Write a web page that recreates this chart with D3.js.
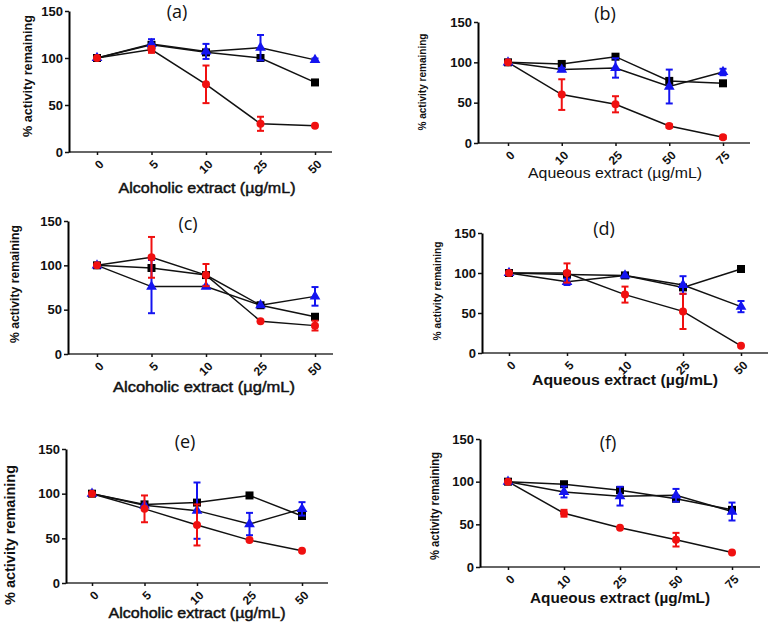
<!DOCTYPE html>
<html><head><meta charset="utf-8">
<script src="https://cdn.jsdelivr.net/npm/d3@7"></script>
<style>body{margin:0;background:#fff}svg{display:block}</style>
</head><body>
<svg id="c" width="770" height="622"></svg>
<script>
// ---------- DATA ----------
const panelTitles = ["(a)", "(b)", "(c)", "(d)", "(e)", "(f)"];
const xTitles = ["Alcoholic extract (\u00b5g/mL)", "Aqueous extract (\u00b5g/mL)", "Alcoholic extract  (\u00b5g/mL)",
                 "Aqueous extract (\u00b5g/mL)", "Alcoholic extract  (\u00b5g/mL)", "Aqueous extract (\u00b5g/mL)"];
const yTitle = "% activity remaining";
const catsAlcoholic = ["0", "5", "10", "25", "50"];
const catsAqueous = ["0", "10", "25", "50", "75"];
const yTicks = [0, 50, 100, 150];

// panel (a)
const aBlack = [100, 114, 106, 100, 74];   const aBlackErr = [0, 0, 0, 0, 0];
const aBlue  = [100, 115, 107, 111, 98];   const aBlueErr  = [0, 5, 8, 13.5, 1.5];
const aRed   = [100, 109, 72, 30, 28];     const aRedErr   = [0, 3.5, 20, 7.5, 0];
// panel (b)
const bBlack = [100, 98, 107, 77, 74];     const bBlackErr = [0, 0, 0, 0, 0];
const bBlue  = [100, 91, 93, 70, 88];      const bBlueErr  = [0, 2, 12, 21, 4];
const bRed   = [100, 60, 48, 21, 7];       const bRedErr   = [0, 19, 10, 2, 2];
// panel (c)
const cBlack = [100, 97, 89, 55, 42];      const cBlackErr = [0, 0, 0, 0, 0];
const cBlue  = [100, 76, 76, 55, 65];      const cBlueErr  = [0, 30, 1, 0, 10.5];
const cRed   = [100, 109, 89, 37, 32];     const cRedErr   = [0, 23, 12.5, 0, 5.5];
// panel (d)
const dBlack = [100, 98, 97, 82, 105];     const dBlackErr = [0, 0, 0, 0, 0];
const dBlue  = [100, 89, 97, 85, 58];      const dBlueErr  = [0, 4, 0, 11, 7];
const dRed   = [100, 100, 73, 52, 9];      const dRedErr   = [0, 12, 10, 22, 0];
// panel (e)
const eBlack = [100, 88, 90, 98, 75];      const eBlackErr = [0, 0, 0, 0, 0];
const eBlue  = [100, 87, 81, 66, 83];      const eBlueErr  = [0, 0, 31.5, 12.5, 7.5];
const eRed   = [100, 83, 65, 48, 36];      const eRedErr   = [0, 15, 23, 0, 0];
// panel (f)
const fBlack = [100, 97, 90, 80, 67];      const fBlackErr = [0, 0, 0, 0, 0];
const fBlue  = [100, 88, 83, 84, 65];      const fBlueErr  = [0, 6.5, 11, 7.5, 10.5];
const fRed   = [100, 63, 46, 32, 17];      const fRedErr   = [0, 4, 0, 8, 0];

// ---------- LAYOUT ----------
const layouts = [
  {ax:69,  top:11,  bot:152, x0:97,  x1:315, xe:332, tx:177, ty:11,  ylx:27,  yly:76,  yll:122, yfs:13, xlx:207, xly:193, xll:177, xb:false},
  {ax:478, top:22,  bot:143, x0:508, x1:723, xe:750, tx:605, ty:13,  ylx:422, yly:82,  yll:97,  yfs:11, xlx:615, xly:178, xll:174, xb:false},
  {ax:68,  top:221, bot:354, x0:97,  x1:315, xe:333, tx:188, ty:223, ylx:14,  yly:284, yll:118, yfs:13, xlx:204, xly:392, xll:182, xb:false},
  {ax:482, top:233, bot:353, x0:509, x1:741, xe:768, tx:604, ty:228, ylx:437, yly:291, yll:99,  yfs:11, xlx:625, xly:385, xll:186, xb:true},
  {ax:66,  top:449, bot:583, x0:92,  x1:302, xe:328, tx:185, ty:441, ylx:10,  yly:535, yll:140, yfs:14, xlx:197, xly:618, xll:177, xb:false},
  {ax:480, top:439, bot:567, x0:508, x1:732, xe:760, tx:608, ty:442, ylx:435, yly:506, yll:108, yfs:12, xlx:620, xly:603, xll:180, xb:true}
];

const panels = [
  {cats: catsAlcoholic, black: aBlack, blackErr: aBlackErr, blue: aBlue, blueErr: aBlueErr, red: aRed, redErr: aRedErr},
  {cats: catsAqueous,   black: bBlack, blackErr: bBlackErr, blue: bBlue, blueErr: bBlueErr, red: bRed, redErr: bRedErr},
  {cats: catsAlcoholic, black: cBlack, blackErr: cBlackErr, blue: cBlue, blueErr: cBlueErr, red: cRed, redErr: cRedErr},
  {cats: catsAlcoholic, black: dBlack, blackErr: dBlackErr, blue: dBlue, blueErr: dBlueErr, red: dRed, redErr: dRedErr},
  {cats: catsAlcoholic, black: eBlack, blackErr: eBlackErr, blue: eBlue, blueErr: eBlueErr, red: eRed, redErr: eRedErr},
  {cats: catsAqueous,   black: fBlack, blackErr: fBlackErr, blue: fBlue, blueErr: fBlueErr, red: fRed, redErr: fRedErr}
];

const svg = d3.select("#c");
const FONT = "'Liberation Sans', Arial, sans-serif";

panels.forEach((p, i) => {
  const L = layouts[i];
  const g = svg.append("g");
  const x = d3.scalePoint().domain(p.cats).range([L.x0, L.x1]);
  const y = d3.scaleLinear().domain([0, 150]).range([L.bot, L.top]);

  // title
  g.append("text").attr("x", L.tx).attr("y", L.ty).attr("text-anchor", "middle")
    .attr("dominant-baseline", "central")
    .style("font-family", "'Open Sans', sans-serif").style("font-size", "18px").attr("fill", "#111")
    .text(panelTitles[i]);

  // x axis
  g.append("line").attr("x1", L.ax).attr("x2", L.xe).attr("y1", L.bot).attr("y2", L.bot)
    .attr("stroke", "#333").attr("stroke-width", 1.6);
  const xAxis = d3.axisBottom(x).tickSize(3).tickPadding(4);
  const xg = g.append("g").attr("transform", `translate(0,${L.bot})`).call(xAxis);
  xg.select(".domain").remove();
  xg.selectAll(".tick line").attr("stroke", "#111").attr("stroke-width", 1.5);
  xg.selectAll(".tick text")
    .style("font-family", FONT).style("font-size", "12px").style("font-weight", "bold").attr("fill", "#111")
    .attr("text-anchor", "end").attr("x", 0).attr("y", 0).attr("dy", "0.35em")
    .attr("transform", "translate(4,10) rotate(-45)");

  // y axis
  const yAxis = d3.axisLeft(y).tickValues(yTicks).tickSize(4).tickPadding(2).tickSizeOuter(0);
  const yg = g.append("g").attr("transform", `translate(${L.ax},0)`).call(yAxis);
  yg.select(".domain").attr("stroke", "#000").attr("stroke-width", 2);
  yg.selectAll(".tick line").attr("stroke", "#111").attr("stroke-width", 1.5);
  yg.selectAll(".tick text")
    .style("font-family", FONT).style("font-size", "13px").style("font-weight", "bold").attr("fill", "#111");

  // axis titles
  g.append("text").attr("transform", `translate(${L.ylx},${L.yly}) rotate(-90)`)
    .attr("text-anchor", "middle").attr("dominant-baseline", "central")
    .attr("textLength", L.yll).attr("lengthAdjust", "spacingAndGlyphs")
    .style("font-family", FONT).style("font-size", L.yfs + "px").style("font-weight", "bold").attr("fill", "#111")
    .text(yTitle);
  g.append("text").attr("x", L.xlx).attr("y", L.xly).attr("text-anchor", "middle")
    .attr("textLength", L.xll).attr("lengthAdjust", "spacingAndGlyphs")
    .style("font-family", FONT).style("font-size", "14px").style("font-weight", L.xb ? "bold" : "normal")
    .attr("fill", "#111").attr("stroke", L.xb || i === 1 ? "none" : "#111").attr("stroke-width", 0.45)
    .text(xTitles[i]);

  const series = [
    {vals: p.black, err: p.blackErr, color: "#000000", shape: "square"},
    {vals: p.blue,  err: p.blueErr,  color: "#1414f0", shape: "triangle"},
    {vals: p.red,   err: p.redErr,   color: "#f01010", shape: "circle"}
  ];
  const line = d3.line().x((d, j) => x(p.cats[j])).y(d => y(d));
  series.forEach(s => {
    g.append("path").datum(s.vals).attr("d", line).attr("fill", "none")
      .attr("stroke", "#111").attr("stroke-width", 1.5);
  });
  series.forEach(s => {
    const sg = g.append("g");
    s.vals.forEach((v, j) => {
      const cx = x(p.cats[j]), cy = y(v), e = s.err[j];
      if (e > 0) {
        const yt = y(v + e), yb = y(v - e);
        sg.append("line").attr("x1", cx).attr("x2", cx).attr("y1", yt).attr("y2", yb)
          .attr("stroke", s.color).attr("stroke-width", 2);
        [yt, yb].forEach(yy => sg.append("line").attr("x1", cx - 3.5).attr("x2", cx + 3.5)
          .attr("y1", yy).attr("y2", yy).attr("stroke", s.color).attr("stroke-width", 2));
      }
      if (s.shape === "square") {
        sg.append("rect").attr("x", cx - 4).attr("y", cy - 4).attr("width", 8).attr("height", 8).attr("fill", s.color);
      } else if (s.shape === "triangle") {
        sg.append("path").attr("d", d3.symbol(d3.symbolTriangle, 50)()).attr("transform", `translate(${cx},${cy})`)
          .attr("fill", s.color);
      } else {
        sg.append("circle").attr("cx", cx).attr("cy", cy).attr("r", 4).attr("fill", s.color);
      }
    });
  });
});
</script>
</body></html>
